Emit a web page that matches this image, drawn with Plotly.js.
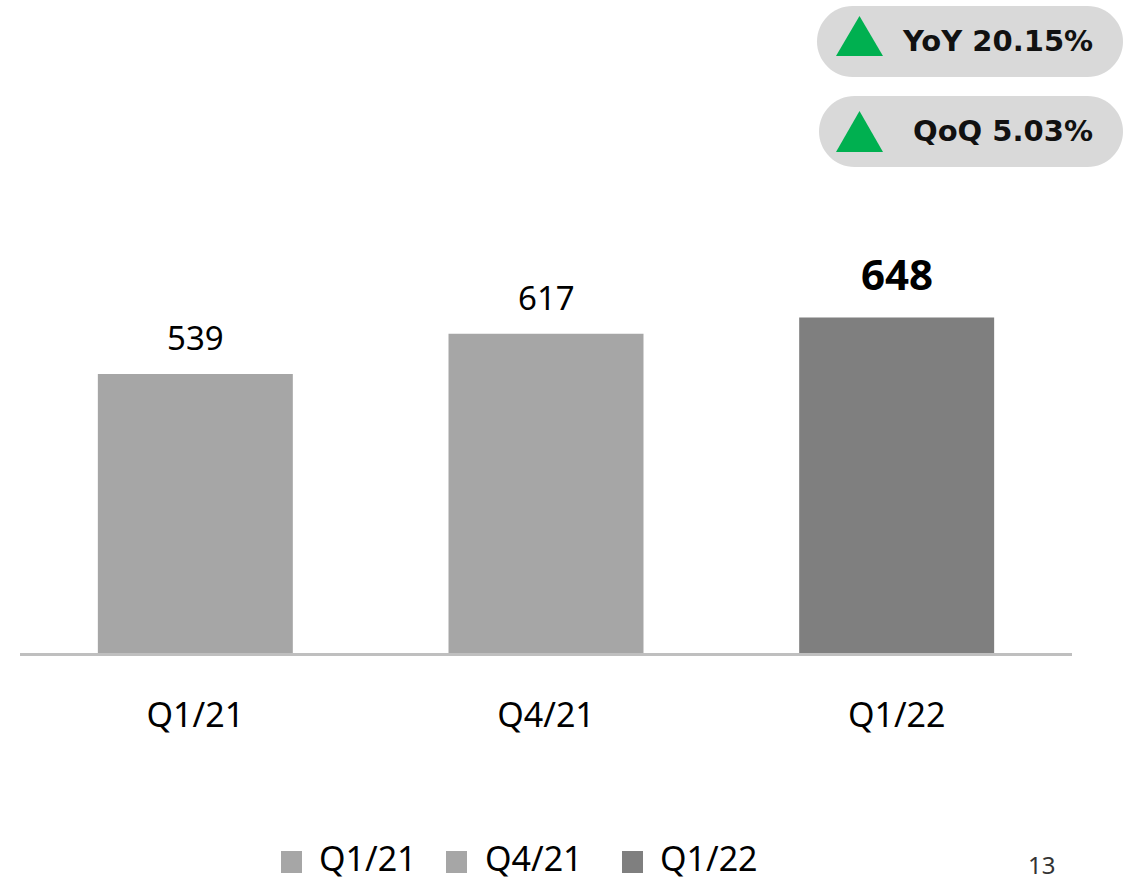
<!DOCTYPE html>
<html>
<head>
<meta charset="utf-8">
<script src="https://cdn.plot.ly/plotly-3.0.1.min.js"></script>
<style>html,body{margin:0;padding:0;background:#fff;}#chart{width:1124px;height:884px;}</style>
</head>
<body>
<div id="chart"></div>
<script>
// ---- data ----
const categories = ['Q1/21', 'Q4/21', 'Q1/22'];
const values = [539, 617, 648];
const barColors = ['#A6A6A6', '#A6A6A6', '#7F7F7F'];
const legendLabels = ['Q1/21', 'Q4/21', 'Q1/22'];
const badgeTexts = ['YoY 20.15%', 'QoQ 5.03%'];
const pageNumber = '13';

// ---- layout geometry (pixels) ----
const W = 1124, H = 884;
const M = {l: 20, r: 52, t: 200, b: 231};
const PW = W - M.l - M.r, PH = H - M.t - M.b;
const px = x => (x - M.l) / PW;
const py = y => (H - M.b - y) / PH;
const FONT = 'Noto Sans, DejaVu Sans, sans-serif';
const BADGE_FONT = 'DejaVu Sans, Noto Sans, sans-serif';

function pillPath(x0, x1, y0, y1) {
  const r = (y1 - y0) / 2, k = 0.5523 * r;
  const cyM = y0 + r;
  const P = (x, y) => px(x).toFixed(5) + ',' + py(y).toFixed(5);
  return 'M' + P(x0 + r, y0) + ' L' + P(x1 - r, y0) +
    ' C' + P(x1 - r + k, y0) + ' ' + P(x1, cyM - k) + ' ' + P(x1, cyM) +
    ' C' + P(x1, cyM + k) + ' ' + P(x1 - r + k, y1) + ' ' + P(x1 - r, y1) +
    ' L' + P(x0 + r, y1) +
    ' C' + P(x0 + r - k, y1) + ' ' + P(x0, cyM + k) + ' ' + P(x0, cyM) +
    ' C' + P(x0, cyM - k) + ' ' + P(x0 + r - k, y0) + ' ' + P(x0 + r, y0) + ' Z';
}
function triPath(xl, xr, yTop, yBot) {
  const P = (x, y) => px(x).toFixed(5) + ',' + py(y).toFixed(5);
  return 'M' + P(xl, yBot) + ' L' + P((xl + xr) / 2, yTop) + ' L' + P(xr, yBot) + ' Z';
}

const shapes = [];
const annotations = [];

// badges
const badgeBoxes = [[817, 1123, 6, 77], [819, 1123, 96, 167]];
const triBoxes = [[836, 883, 16, 56], [836, 883, 111, 152]];
const badgeTextY = [41, 131];
badgeTexts.forEach((t, i) => {
  const b = badgeBoxes[i];
  shapes.push({type: 'path', xref: 'paper', yref: 'paper', path: pillPath(b[0], b[1], b[2], b[3]),
    fillcolor: '#D9D9D9', line: {width: 0}, layer: 'above'});
  const tr = triBoxes[i];
  shapes.push({type: 'path', xref: 'paper', yref: 'paper', path: triPath(tr[0], tr[1], tr[2], tr[3]),
    fillcolor: '#00B050', line: {width: 0}, layer: 'above'});
  annotations.push({xref: 'paper', yref: 'paper', x: px(1095), y: py(badgeTextY[i]),
    xanchor: 'right', yanchor: 'middle', showarrow: false, text: '<b>' + t + '</b>',
    font: {family: BADGE_FONT, size: 29, color: '#111111'}});
});

// value labels
values.forEach((v, i) => {
  const isLast = i === values.length - 1;
  annotations.push({xref: 'x', yref: 'y', x: categories[i], y: v, xanchor: 'center', yanchor: 'bottom',
    yshift: isLast ? 14 : 12, showarrow: false,
    text: isLast ? '<b>' + v + '</b>' : String(v),
    font: {family: FONT, size: isLast ? 42 : 33, color: '#000000'}});
});

// custom legend
const legSq = [281, 446, 622];
const legTx = [317, 483, 658];
legendLabels.forEach((lab, i) => {
  shapes.push({type: 'rect', xref: 'paper', yref: 'paper', x0: px(legSq[i]), x1: px(legSq[i] + 21),
    y0: py(873), y1: py(851), fillcolor: barColors[i], line: {width: 0}});
  annotations.push({xref: 'paper', yref: 'paper', x: px(legTx[i]), y: py(883), xanchor: 'left', yanchor: 'bottom',
    showarrow: false, text: lab, font: {family: FONT, size: 34, color: '#000000'}});
});

// page number
annotations.push({xref: 'paper', yref: 'paper', x: px(1041), y: py(883), xanchor: 'center', yanchor: 'bottom',
  showarrow: false, text: pageNumber, font: {family: FONT, size: 24, color: '#333333'}});

const trace = {
  type: 'bar', x: categories, y: values, width: 0.556,
  marker: {color: barColors, line: {width: 0}},
  hoverinfo: 'x+y', showlegend: false
};

const layout = {
  width: W, height: H,
  margin: M,
  paper_bgcolor: '#ffffff', plot_bgcolor: '#ffffff',
  showlegend: false,
  xaxis: {
    type: 'category', showline: true, linecolor: '#BFBFBF', linewidth: 3,
    ticks: '', showgrid: false, zeroline: false,
    tickfont: {family: FONT, size: 34, color: '#000000'},
    ticklabelstandoff: 30, fixedrange: true
  },
  yaxis: {range: [0, PH / 0.5176], visible: false, showgrid: false, zeroline: false, fixedrange: true},
  shapes: shapes,
  annotations: annotations
};

Plotly.newPlot('chart', [trace], layout, {displayModeBar: false, staticPlot: true});
</script>
</body>
</html>
